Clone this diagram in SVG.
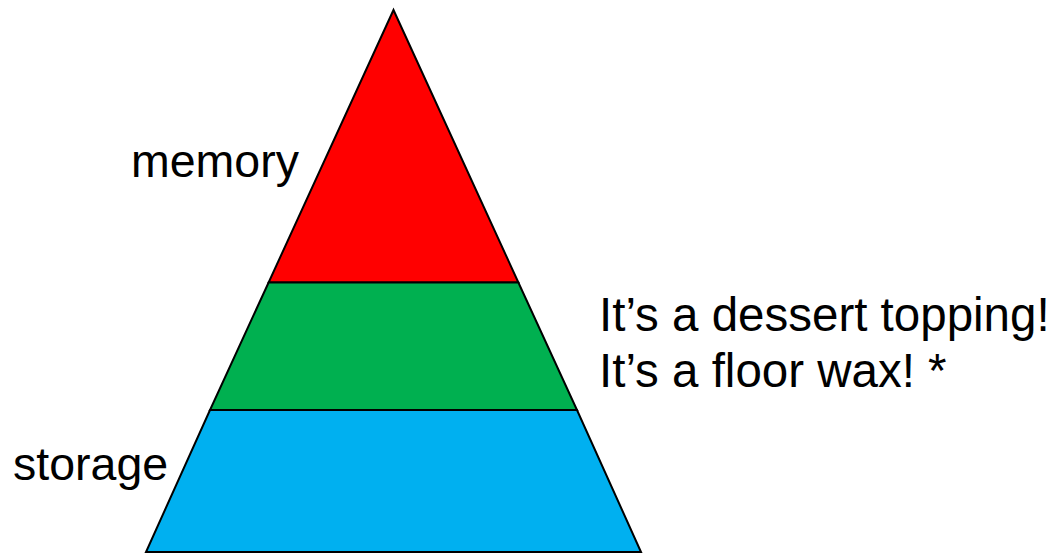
<svg xmlns="http://www.w3.org/2000/svg" width="1054" height="554" viewBox="0 0 1054 554">
<style>
.band{stroke:#000;stroke-width:2;stroke-linejoin:miter}
.lbl{font-family:"Liberation Sans",Arial,sans-serif;font-size:46.5px;fill:#000}
.q{font-size:47.5px}
</style>
<rect width="1054" height="554" fill="#fff"/>
<g id="memory-band"><polygon class="band" points="393.5,10 518.4,282.5 268.6,282.5" fill="#ff0000"/></g>
<g id="middle-band"><polygon class="band" points="268.6,282.5 518.4,282.5 577,410 210,410" fill="#00b050"/></g>
<g id="storage-band"><polygon class="band" points="210,410 577,410 641,552 146,552" fill="#00b0f0"/></g>
<g id="label-memory"><text class="lbl" x="131" y="177">memory</text></g>
<g id="label-storage"><text class="lbl" x="13" y="480">storage</text></g>
<g id="label-quote"><text class="lbl q" x="599" y="331">It’s a dessert topping!</text><text class="lbl q" x="599" y="387">It’s a floor wax! *</text></g>
<g id="connectors"/>
</svg>
